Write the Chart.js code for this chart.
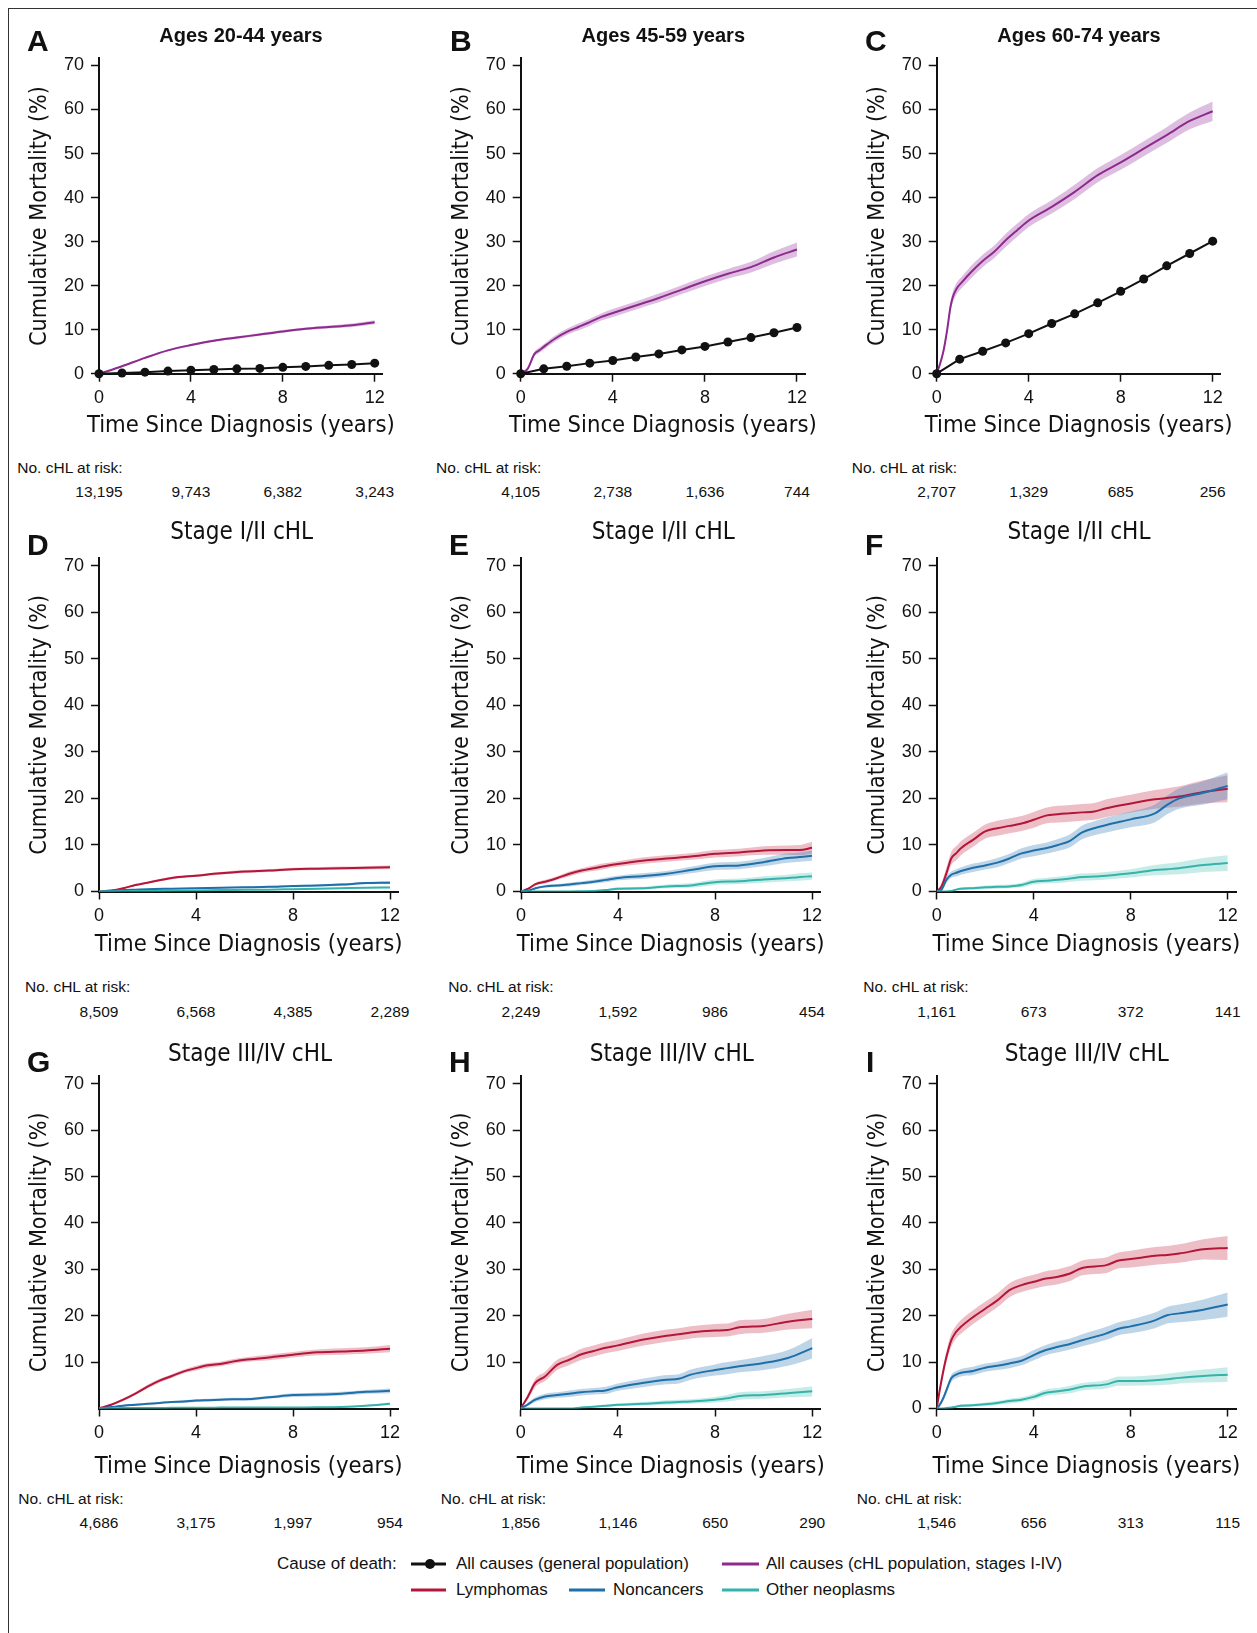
<!DOCTYPE html>
<html>
<head>
<meta charset="utf-8">
<title>Cumulative mortality by cause of death</title>
<script src="https://cdn.jsdelivr.net/npm/chart.js@4.4.1/dist/chart.umd.min.js"></script>
<style>
  body { margin: 0; background: #fff; }
  #figure { position: relative; width: 1257px; height: 1633px; overflow: hidden; background: #fff;
            font-family: "Liberation Sans", Arial, Helvetica, sans-serif; color: #111; }
  #frame { position: absolute; left: 8px; top: 8px; right: -4px; bottom: -4px;
           border-top: 1.5px solid #333; border-left: 1.5px solid #333; }
  canvas { position: absolute; }
  .txt { position: absolute; white-space: nowrap; line-height: 1; transform: translateY(-50%); }
  .center { transform: translate(-50%, -50%); }
  .letter { font-weight: bold; font-size: 30px; }
  .ageTitle { font-weight: bold; font-size: 20px; }
  .risk { font-size: 15.5px; }
  .key { position: absolute; height: 3px; transform: translateY(-50%); }
  .dot { position: absolute; width: 10px; height: 10px; border-radius: 50%; background: #111; transform: translate(-50%, -50%); }
</style>
</head>
<body>
<div id="figure"><div id="frame"></div></div>
<script>
// --- values ---
const timeTicks = [0, 4, 8, 12];
const mortTicks = [0, 10, 20, 30, 40, 50, 60, 70];
const mortTicksNoZero = [10, 20, 30, 40, 50, 60, 70];

// general population, one dot per year
const genYears = [0, 1, 2, 3, 4, 5, 6, 7, 8, 9, 10, 11, 12];
const genA = [0, 0.15, 0.35, 0.6, 0.8, 0.95, 1.1, 1.2, 1.45, 1.65, 1.9, 2.1, 2.4];
const genB = [0, 1.1, 1.7, 2.4, 3.0, 3.8, 4.5, 5.4, 6.2, 7.2, 8.2, 9.3, 10.5];
const genC = [0, 3.3, 5.1, 7.0, 9.1, 11.4, 13.6, 16.1, 18.7, 21.5, 24.5, 27.3, 30.1];

// all causes, cHL population (estimate and CI half-width)
const tA = [0, 0.5, 1, 2, 3, 4, 5, 6, 7, 8, 9, 10, 11, 12];
const allA = [0, 0.8, 1.7, 3.6, 5.3, 6.5, 7.5, 8.2, 8.9, 9.6, 10.2, 10.6, 11.0, 11.7];
const ciA = [0, 0.1, 0.15, 0.2, 0.2, 0.25, 0.25, 0.3, 0.3, 0.3, 0.3, 0.35, 0.4, 0.45];

const tB = [0, 0.3, 0.6, 0.8, 1, 1.5, 2, 2.5, 3, 3.5, 4, 5, 6, 7, 8, 9, 10, 11, 12];
const allB = [0, 1.1, 4.5, 5.3, 6.1, 8.0, 9.5, 10.6, 11.7, 12.9, 13.8, 15.5, 17.2, 19.1, 21.0, 22.7, 24.2, 26.4, 28.2];
const ciB = [0, 0.3, 0.5, 0.6, 0.6, 0.7, 0.7, 0.8, 0.8, 0.8, 0.9, 0.9, 1.0, 1.0, 1.1, 1.1, 1.2, 1.4, 1.6];

const tC = [0, 0.15, 0.3, 0.45, 0.6, 0.7, 0.85, 1.1, 1.5, 2, 2.5, 3, 3.5, 4, 5, 6, 7, 8, 9, 10, 11, 12];
const allC = [0, 2.3, 5.3, 9.8, 15.2, 17.4, 19.2, 20.8, 23.1, 25.6, 27.7, 30.3, 32.6, 34.8, 37.9, 41.3, 45.1, 48.0, 51.1, 54.2, 57.4, 59.6];
const ciC = [0, 0.5, 0.8, 1.0, 1.1, 1.2, 1.3, 1.3, 1.4, 1.4, 1.4, 1.5, 1.5, 1.5, 1.5, 1.6, 1.6, 1.7, 1.7, 1.8, 1.9, 2.2];

// stage I/II, by cause: lymphomas, noncancers, other neoplasms
const tD = [0, 0.5, 1, 1.5, 2, 3, 4, 5, 6, 7, 8, 9, 10, 11, 12];
const lymD = [0, 0.2, 0.7, 1.4, 1.9, 2.9, 3.4, 3.9, 4.3, 4.5, 4.8, 4.9, 5.0, 5.1, 5.2];
const nonD = [0, 0.1, 0.3, 0.4, 0.5, 0.6, 0.7, 0.8, 0.9, 1.0, 1.2, 1.3, 1.5, 1.8, 1.9];
const othD = [0, 0, 0.05, 0.1, 0.1, 0.15, 0.2, 0.3, 0.35, 0.4, 0.5, 0.6, 0.7, 0.8, 0.85];
const ciLymD = [0, 0.1, 0.15, 0.2, 0.2, 0.25, 0.25, 0.3, 0.3, 0.3, 0.3, 0.3, 0.35, 0.35, 0.4];
const ciNonD = [0, 0.05, 0.1, 0.1, 0.1, 0.15, 0.15, 0.15, 0.2, 0.2, 0.2, 0.2, 0.25, 0.25, 0.3];
const ciOthD = [0, 0, 0.05, 0.05, 0.05, 0.05, 0.05, 0.1, 0.1, 0.1, 0.1, 0.1, 0.15, 0.15, 0.15];

const tE = [0, 0.3, 0.6, 1, 1.5, 2, 2.5, 3, 3.5, 4, 5, 6, 7, 8, 9, 10, 11, 11.5, 12];
const lymE = [0, 0.6, 1.6, 2.1, 2.9, 3.8, 4.5, 5.0, 5.5, 5.9, 6.6, 7.1, 7.5, 8.1, 8.4, 8.8, 8.9, 8.9, 9.4];
const nonE = [0, 0.2, 0.7, 1.1, 1.3, 1.5, 1.8, 2.1, 2.5, 2.9, 3.3, 3.8, 4.6, 5.4, 5.6, 6.3, 7.2, 7.4, 7.7];
const othE = [0, 0, 0, 0, 0, 0, 0.05, 0.1, 0.3, 0.6, 0.7, 1.1, 1.3, 2.0, 2.2, 2.6, 2.9, 3.1, 3.3];
const ciLymE = [0, 0.2, 0.3, 0.4, 0.4, 0.5, 0.5, 0.6, 0.6, 0.6, 0.7, 0.7, 0.7, 0.8, 0.8, 0.9, 1.0, 1.1, 1.3];
const ciNonE = [0, 0.1, 0.2, 0.3, 0.3, 0.4, 0.4, 0.4, 0.5, 0.5, 0.6, 0.6, 0.7, 0.8, 0.8, 0.9, 1.0, 1.0, 1.1];
const ciOthE = [0, 0, 0, 0, 0, 0, 0.1, 0.1, 0.2, 0.3, 0.3, 0.4, 0.5, 0.6, 0.6, 0.7, 0.7, 0.8, 0.8];

const tF = [0, 0.2, 0.4, 0.6, 0.8, 1, 1.5, 2, 2.5, 3, 3.5, 4, 4.5, 5, 5.5, 6, 6.5, 7, 8, 9, 9.5, 10, 11, 12];
const lymF = [0, 1.1, 3.9, 7.1, 8.2, 9.3, 11.1, 12.9, 13.6, 14.1, 14.6, 15.4, 16.3, 16.6, 16.8, 17.0, 17.2, 17.9, 18.9, 19.8, 20.1, 20.4, 21.4, 22.1];
const nonF = [0, 0.4, 2.5, 3.6, 4.0, 4.4, 5.1, 5.6, 6.2, 7.1, 8.2, 8.8, 9.3, 10.0, 10.9, 12.7, 13.6, 14.3, 15.5, 16.8, 18.6, 20.0, 21.2, 22.7];
const othF = [0, 0, 0, 0.1, 0.4, 0.6, 0.7, 0.9, 1.0, 1.1, 1.4, 2.1, 2.3, 2.5, 2.8, 3.1, 3.2, 3.4, 3.9, 4.6, 4.8, 5.0, 5.7, 6.1];
const ciLymF = [0, 0.8, 1.2, 1.4, 1.5, 1.5, 1.5, 1.5, 1.6, 1.6, 1.6, 1.7, 1.7, 1.8, 1.8, 1.8, 1.8, 1.9, 1.9, 2.0, 2.1, 2.2, 2.5, 2.9];
const ciNonF = [0, 0.3, 0.6, 0.7, 0.8, 0.8, 0.9, 0.9, 1.0, 1.0, 1.1, 1.2, 1.2, 1.3, 1.4, 1.5, 1.5, 1.6, 1.7, 1.9, 2.0, 2.2, 2.5, 2.9];
const ciOthF = [0, 0, 0, 0.1, 0.2, 0.3, 0.3, 0.4, 0.4, 0.4, 0.5, 0.6, 0.6, 0.7, 0.7, 0.8, 0.8, 0.8, 0.9, 1.1, 1.2, 1.3, 1.5, 1.7];

// stage III/IV, by cause
const tG = [0, 0.5, 1, 1.5, 2, 2.5, 3, 3.5, 4, 4.5, 5, 5.5, 6, 7, 8, 9, 10, 11, 12];
const lymG = [0, 0.8, 1.9, 3.2, 4.7, 6.0, 7.0, 8.0, 8.7, 9.3, 9.6, 10.1, 10.5, 11.0, 11.6, 12.1, 12.3, 12.5, 12.9];
const nonG = [0, 0.3, 0.6, 0.8, 1.0, 1.2, 1.4, 1.5, 1.7, 1.8, 1.9, 2.0, 2.0, 2.4, 2.9, 3.0, 3.2, 3.6, 3.8];
const othG = [0, 0.05, 0.1, 0.1, 0.1, 0.1, 0.15, 0.15, 0.15, 0.15, 0.2, 0.2, 0.2, 0.2, 0.2, 0.25, 0.35, 0.6, 1.0];
const ciLymG = [0, 0.2, 0.3, 0.3, 0.4, 0.4, 0.4, 0.4, 0.5, 0.5, 0.5, 0.5, 0.5, 0.6, 0.6, 0.6, 0.7, 0.7, 0.8];
const ciNonG = [0, 0.1, 0.2, 0.2, 0.2, 0.2, 0.2, 0.3, 0.3, 0.3, 0.3, 0.3, 0.3, 0.3, 0.4, 0.4, 0.4, 0.4, 0.5];
const ciOthG = [0, 0, 0.05, 0.05, 0.05, 0.05, 0.05, 0.05, 0.05, 0.05, 0.1, 0.1, 0.1, 0.1, 0.1, 0.1, 0.1, 0.2, 0.3];

const tH = [0, 0.3, 0.6, 1, 1.5, 2, 2.5, 3, 3.5, 4, 5, 6, 6.5, 7, 8, 8.5, 9, 10, 11, 12];
const lymH = [0, 2.6, 5.5, 6.9, 9.4, 10.5, 11.7, 12.4, 13.1, 13.6, 14.8, 15.7, 16.0, 16.4, 16.8, 16.9, 17.5, 17.8, 18.7, 19.3];
const nonH = [0, 0.9, 1.9, 2.6, 2.9, 3.2, 3.5, 3.7, 3.9, 4.6, 5.5, 6.2, 6.4, 7.3, 8.3, 8.7, 9.1, 9.8, 10.9, 13.0];
const othH = [0, 0, 0, 0, 0, 0, 0.2, 0.4, 0.6, 0.8, 1.0, 1.3, 1.4, 1.5, 1.9, 2.2, 2.7, 2.9, 3.3, 3.7];
const ciLymH = [0, 0.6, 0.9, 1.0, 1.1, 1.1, 1.2, 1.2, 1.2, 1.2, 1.3, 1.3, 1.3, 1.3, 1.4, 1.4, 1.5, 1.5, 1.7, 2.0];
const ciNonH = [0, 0.3, 0.5, 0.6, 0.6, 0.7, 0.7, 0.7, 0.8, 0.8, 0.9, 1.0, 1.0, 1.1, 1.2, 1.3, 1.3, 1.5, 1.7, 2.2];
const ciOthH = [0, 0, 0, 0, 0, 0, 0.1, 0.2, 0.3, 0.3, 0.4, 0.5, 0.5, 0.5, 0.6, 0.7, 0.8, 0.8, 0.9, 1.1];

const tI = [0, 0.1, 0.25, 0.4, 0.6, 0.8, 1, 1.5, 2, 2.5, 3, 3.5, 4, 4.5, 5, 5.5, 6, 7, 7.5, 8, 9, 9.5, 10, 11, 12];
const lymI = [0, 3.2, 7.5, 11.1, 14.7, 16.5, 17.6, 19.7, 21.5, 23.3, 25.5, 26.6, 27.3, 28.0, 28.4, 29.1, 30.3, 30.9, 31.9, 32.2, 32.9, 33.1, 33.4, 34.3, 34.6];
const nonI = [0, 0.6, 2.0, 3.9, 6.5, 7.3, 7.7, 8.1, 8.8, 9.2, 9.7, 10.3, 11.5, 12.6, 13.3, 13.9, 14.7, 16.2, 17.2, 17.7, 19.0, 20.1, 20.5, 21.3, 22.4];
const othI = [0, 0, 0, 0.1, 0.2, 0.4, 0.6, 0.7, 0.9, 1.2, 1.6, 1.9, 2.5, 3.4, 3.7, 4.1, 4.7, 5.2, 5.9, 5.9, 6.1, 6.3, 6.6, 7.0, 7.3];
const ciLymI = [0, 0.6, 1.0, 1.2, 1.4, 1.4, 1.5, 1.5, 1.5, 1.5, 1.5, 1.5, 1.5, 1.6, 1.6, 1.6, 1.6, 1.7, 1.7, 1.8, 1.9, 1.9, 2.0, 2.2, 2.6];
const ciNonI = [0, 0.3, 0.5, 0.7, 0.8, 0.8, 0.8, 0.9, 0.9, 0.9, 1.0, 1.0, 1.1, 1.1, 1.2, 1.2, 1.3, 1.4, 1.4, 1.5, 1.7, 1.8, 1.9, 2.2, 2.6];
const ciOthI = [0, 0, 0, 0.1, 0.1, 0.2, 0.3, 0.3, 0.4, 0.4, 0.5, 0.5, 0.6, 0.7, 0.7, 0.8, 0.8, 0.9, 1.0, 1.0, 1.1, 1.2, 1.2, 1.4, 1.6];

// number at risk at 0, 4, 8, 12 years
const riskA = ['13,195', '9,743', '6,382', '3,243'];
const riskB = ['4,105', '2,738', '1,636', '744'];
const riskC = ['2,707', '1,329', '685', '256'];
const riskD = ['8,509', '6,568', '4,385', '2,289'];
const riskE = ['2,249', '1,592', '986', '454'];
const riskF = ['1,161', '673', '372', '141'];
const riskG = ['4,686', '3,175', '1,997', '954'];
const riskH = ['1,856', '1,146', '650', '290'];
const riskI = ['1,546', '656', '313', '115'];

// --- look ---
const INK = '#111';
const COLORS = {
    gen: { line: '#111111' },
    chl: { line: '#8e2a8e', band: 'rgba(160,70,165,0.35)' },
    lym: { line: '#b3163a', band: 'rgba(205,70,95,0.35)' },
    non: { line: '#1f6fa8', band: 'rgba(70,135,190,0.35)' },
    oth: { line: '#35b3ab', band: 'rgba(80,195,185,0.32)' }
};
const X_MAX = 12.35, Y_MAX = 71.6;
const Y_AXIS_W = 80, X_AXIS_H = 76, PAD_TOP = 24, PAD_RIGHT = 16;

const rows = [
    { letterY: 40.5, titleY: 35, xTitleDy: 51.5, riskHeadY: 468, riskNumY: 492 },
    { letterY: 545, titleY: 531, xTitleDy: 52.5, riskHeadY: 986.7, riskNumY: 1011.5 },
    { letterY: 1062, titleY: 1053, xTitleDy: 57, riskHeadY: 1499, riskNumY: 1523 }
];

const stageI = 'Stage I/II cHL', stageIII = 'Stage III/IV cHL';
const byCause = (t, lym, cl, non, cn, oth, co) => [
    { kind: 'oth', t, y: oth, ci: co },
    { kind: 'non', t, y: non, ci: cn },
    { kind: 'lym', t, y: lym, ci: cl }
];

const panels = [
    { key: 'A', row: 0, title: 'Ages 20-44 years', x0: 99, x12: 374.7, y0: 373.7, y70: 65.5, letterX: 27, titleX: 241, riskX: 17.3, risk: riskA, yTicks: mortTicks,
      series: [{ kind: 'chl', t: tA, y: allA, ci: ciA }, { kind: 'gen', y: genA }] },
    { key: 'B', row: 0, title: 'Ages 45-59 years', x0: 520.7, x12: 797, y0: 373.7, y70: 65.5, letterX: 450, titleX: 663.3, riskX: 436, risk: riskB, yTicks: mortTicks,
      series: [{ kind: 'chl', t: tB, y: allB, ci: ciB }, { kind: 'gen', y: genB }] },
    { key: 'C', row: 0, title: 'Ages 60-74 years', x0: 936.7, x12: 1212.7, y0: 373.7, y70: 65.5, letterX: 865, titleX: 1079, riskX: 851.7, risk: riskC, yTicks: mortTicks,
      series: [{ kind: 'chl', t: tC, y: allC, ci: ciC }, { kind: 'gen', y: genC }] },
    { key: 'D', row: 1, title: stageI, x0: 99, x12: 390, y0: 891.5, y70: 565.7, letterX: 27, titleX: 241.7, riskX: 25, risk: riskD, yTicks: mortTicks,
      series: byCause(tD, lymD, ciLymD, nonD, ciNonD, othD, ciOthD) },
    { key: 'E', row: 1, title: stageI, x0: 521, x12: 812, y0: 891.5, y70: 565.7, letterX: 449, titleX: 663.3, riskX: 448.3, risk: riskE, yTicks: mortTicks,
      series: byCause(tE, lymE, ciLymE, nonE, ciNonE, othE, ciOthE) },
    { key: 'F', row: 1, title: stageI, x0: 936.7, x12: 1227.7, y0: 891.5, y70: 565.7, letterX: 865, titleX: 1079, riskX: 863.3, risk: riskF, yTicks: mortTicks,
      series: byCause(tF, lymF, ciLymF, nonF, ciNonF, othF, ciOthF) },
    { key: 'G', row: 2, title: stageIII, x0: 99, x12: 390, y0: 1408.5, y70: 1083.7, letterX: 27, titleX: 250, riskX: 18.3, risk: riskG, yTicks: mortTicksNoZero,
      series: byCause(tG, lymG, ciLymG, nonG, ciNonG, othG, ciOthG) },
    { key: 'H', row: 2, title: stageIII, x0: 520.7, x12: 812.3, y0: 1408.5, y70: 1083.7, letterX: 449, titleX: 671.7, riskX: 440.7, risk: riskH, yTicks: mortTicksNoZero,
      series: byCause(tH, lymH, ciLymH, nonH, ciNonH, othH, ciOthH) },
    { key: 'I', row: 2, title: stageIII, x0: 936.7, x12: 1227.7, y0: 1408.5, y70: 1083.7, letterX: 866, titleX: 1086.7, riskX: 856.7, risk: riskI, yTicks: mortTicks,
      series: byCause(tI, lymI, ciLymI, nonI, ciNonI, othI, ciOthI) }
];

// --- condensed font for titles: take whatever narrow face is installed ---
const meas = document.createElement('canvas').getContext('2d');
function widthOf(text, font) {
    meas.font = font;
    return meas.measureText(text).width;
}
function installed(name) {
    const probe = 'Cumulative Mortality 0123';
    return widthOf(probe, `40px "${name}", monospace`) !== widthOf(probe, '40px monospace');
}
const narrow = ['Liberation Sans Narrow', 'Arial Narrow', 'DejaVu Sans Condensed', 'Roboto Condensed'].find(installed) || 'Liberation Sans';
function fitSize(text, target, maxSize, family = narrow) {
    return Math.min(maxSize, 40 * target / widthOf(text, `40px "${family}"`));
}
const X_TITLE = 'Time Since Diagnosis (years)';
const xTitleSize = fitSize(X_TITLE, 308, 30);
const yTitleSize = fitSize('Cumulative Mortality (%)', 260, 28);
const stageSize = fitSize('Stage I/II cHL', 143, 27);
const legendSize = fitSize('All causes (general population)', 233, 18, 'Liberation Sans');

const fig = document.getElementById('figure');

function addText(text, x, y, cls, extra) {
    const el = document.createElement('div');
    el.className = 'txt ' + (cls || '');
    el.textContent = text;
    el.style.left = x + 'px';
    el.style.top = y + 'px';
    if (extra) Object.assign(el.style, extra);
    fig.appendChild(el);
    return el;
}

function buildDatasets(series) {
    const bands = [], lines = [];
    series.forEach(s => {
        const c = COLORS[s.kind];
        if (s.kind === 'gen') {
            lines.push({
                data: genYears.map((t, i) => ({ x: t, y: s.y[i] })),
                borderColor: c.line, backgroundColor: c.line, borderWidth: 2,
                pointRadius: 4.5, pointBorderWidth: 0, fill: false, clip: false, order: 0
            });
            return;
        }
        bands.push({
            data: s.t.map((t, i) => ({ x: t, y: Math.max(0, s.y[i] - s.ci[i]) })),
            borderWidth: 0, pointRadius: 0, fill: false, order: 2, cubicInterpolationMode: 'monotone'
        });
        bands.push({
            data: s.t.map((t, i) => ({ x: t, y: s.y[i] + s.ci[i] })),
            borderWidth: 0, pointRadius: 0, fill: '-1', backgroundColor: c.band, order: 2, cubicInterpolationMode: 'monotone'
        });
        lines.push({
            data: s.t.map((t, i) => ({ x: t, y: s.y[i] })),
            borderColor: c.line, borderWidth: 2, pointRadius: 0, fill: false, order: 1, cubicInterpolationMode: 'monotone'
        });
    });
    return bands.concat(lines);
}

panels.forEach(p => {
    const r = rows[p.row];
    const perYear = (p.x12 - p.x0) / 12;
    const perUnit = (p.y0 - p.y70) / 70;
    const areaRight = p.x0 + perYear * X_MAX;
    const areaTop = p.y0 - perUnit * Y_MAX;
    const left = p.x0 - Y_AXIS_W;
    const cl = Math.floor(left), ct = Math.floor(areaTop - PAD_TOP);
    const cw = Math.ceil(areaRight + PAD_RIGHT) - cl;
    const ch = Math.ceil(p.y0 + X_AXIS_H) - ct;

    const canvas = document.createElement('canvas');
    canvas.width = cw;
    canvas.height = ch;
    canvas.style.left = cl + 'px';
    canvas.style.top = ct + 'px';
    fig.appendChild(canvas);

    new Chart(canvas, {
        type: 'line',
        data: { datasets: buildDatasets(p.series) },
        options: {
            responsive: false,
            animation: false,
            events: [],
            layout: { padding: { left: left - cl, top: areaTop - ct, right: cl + cw - areaRight, bottom: ct + ch - (p.y0 + X_AXIS_H) } },
            plugins: { legend: { display: false }, tooltip: { enabled: false } },
            scales: {
                x: {
                    type: 'linear', min: 0, max: X_MAX,
                    afterBuildTicks: s => { s.ticks = timeTicks.map(v => ({ value: v })); },
                    afterFit: s => { s.height = X_AXIS_H; },
                    ticks: { font: { family: 'Liberation Sans', size: 18 }, color: INK, padding: 6, maxRotation: 0, autoSkip: false },
                    grid: { drawOnChartArea: false, drawTicks: true, tickLength: 8, tickWidth: 1.5, tickColor: INK },
                    border: { display: true, color: INK, width: 2 },
                    // the x title is wider than the axis in the original, so it is placed as page text below
                    title: { display: false }
                },
                y: {
                    type: 'linear', min: 0, max: Y_MAX,
                    afterBuildTicks: s => { s.ticks = p.yTicks.map(v => ({ value: v })); },
                    afterFit: s => { s.width = Y_AXIS_W; },
                    ticks: { font: { family: 'Liberation Sans', size: 18 }, color: INK, padding: 7, autoSkip: false },
                    grid: { drawOnChartArea: false, drawTicks: true, tickLength: 8, tickWidth: 1.5, tickColor: INK },
                    border: { display: true, color: INK, width: 2 },
                    title: {
                        display: true, text: 'Cumulative Mortality (%)', color: INK,
                        font: { family: narrow, size: yTitleSize, lineHeight: 1.2 },
                        padding: { top: Y_AXIS_W - 59 - yTitleSize * 0.6, bottom: 0 }
                    }
                }
            }
        }
    });

    // panel letter, titles and the at-risk table
    addText(p.key, p.letterX, r.letterY, 'letter');
    if (p.row === 0) {
        addText(p.title, p.titleX, r.titleY, 'ageTitle center');
    } else {
        addText(p.title, p.titleX, r.titleY, 'center', { fontFamily: `"${narrow}"`, fontSize: stageSize + 'px' });
    }
    addText(X_TITLE, (p.x0 + areaRight) / 2, p.y0 + r.xTitleDy, 'center', { fontFamily: `"${narrow}"`, fontSize: xTitleSize + 'px' });
    addText('No. cHL at risk:', p.riskX, r.riskHeadY, 'risk');
    p.risk.forEach((n, k) => addText(n, p.x0 + perYear * timeTicks[k], r.riskNumY, 'risk center'));
});

// --- legend ---
const legendFont = { fontSize: legendSize + 'px' };
function keyLine(x, y, w, color) {
    const el = document.createElement('div');
    el.className = 'key';
    Object.assign(el.style, { left: x + 'px', top: y + 'px', width: w + 'px', background: color });
    fig.appendChild(el);
}
addText('Cause of death:', 277, 1563.5, '', legendFont);
keyLine(411, 1563.5, 35, COLORS.gen.line);
const dot = document.createElement('div');
dot.className = 'dot';
dot.style.left = '430px';
dot.style.top = '1563.5px';
fig.appendChild(dot);
addText('All causes (general population)', 456, 1563.5, '', legendFont);
keyLine(721.5, 1563.5, 37, COLORS.chl.line);
addText('All causes (cHL population, stages I-IV)', 766, 1563.5, '', legendFont);
keyLine(411, 1590, 35, COLORS.lym.line);
addText('Lymphomas', 456, 1590, '', legendFont);
keyLine(568.5, 1590, 36, COLORS.non.line);
addText('Noncancers', 613, 1590, '', legendFont);
keyLine(721.5, 1590, 37, COLORS.oth.line);
addText('Other neoplasms', 766, 1590, '', legendFont);
</script>
</body>
</html>
